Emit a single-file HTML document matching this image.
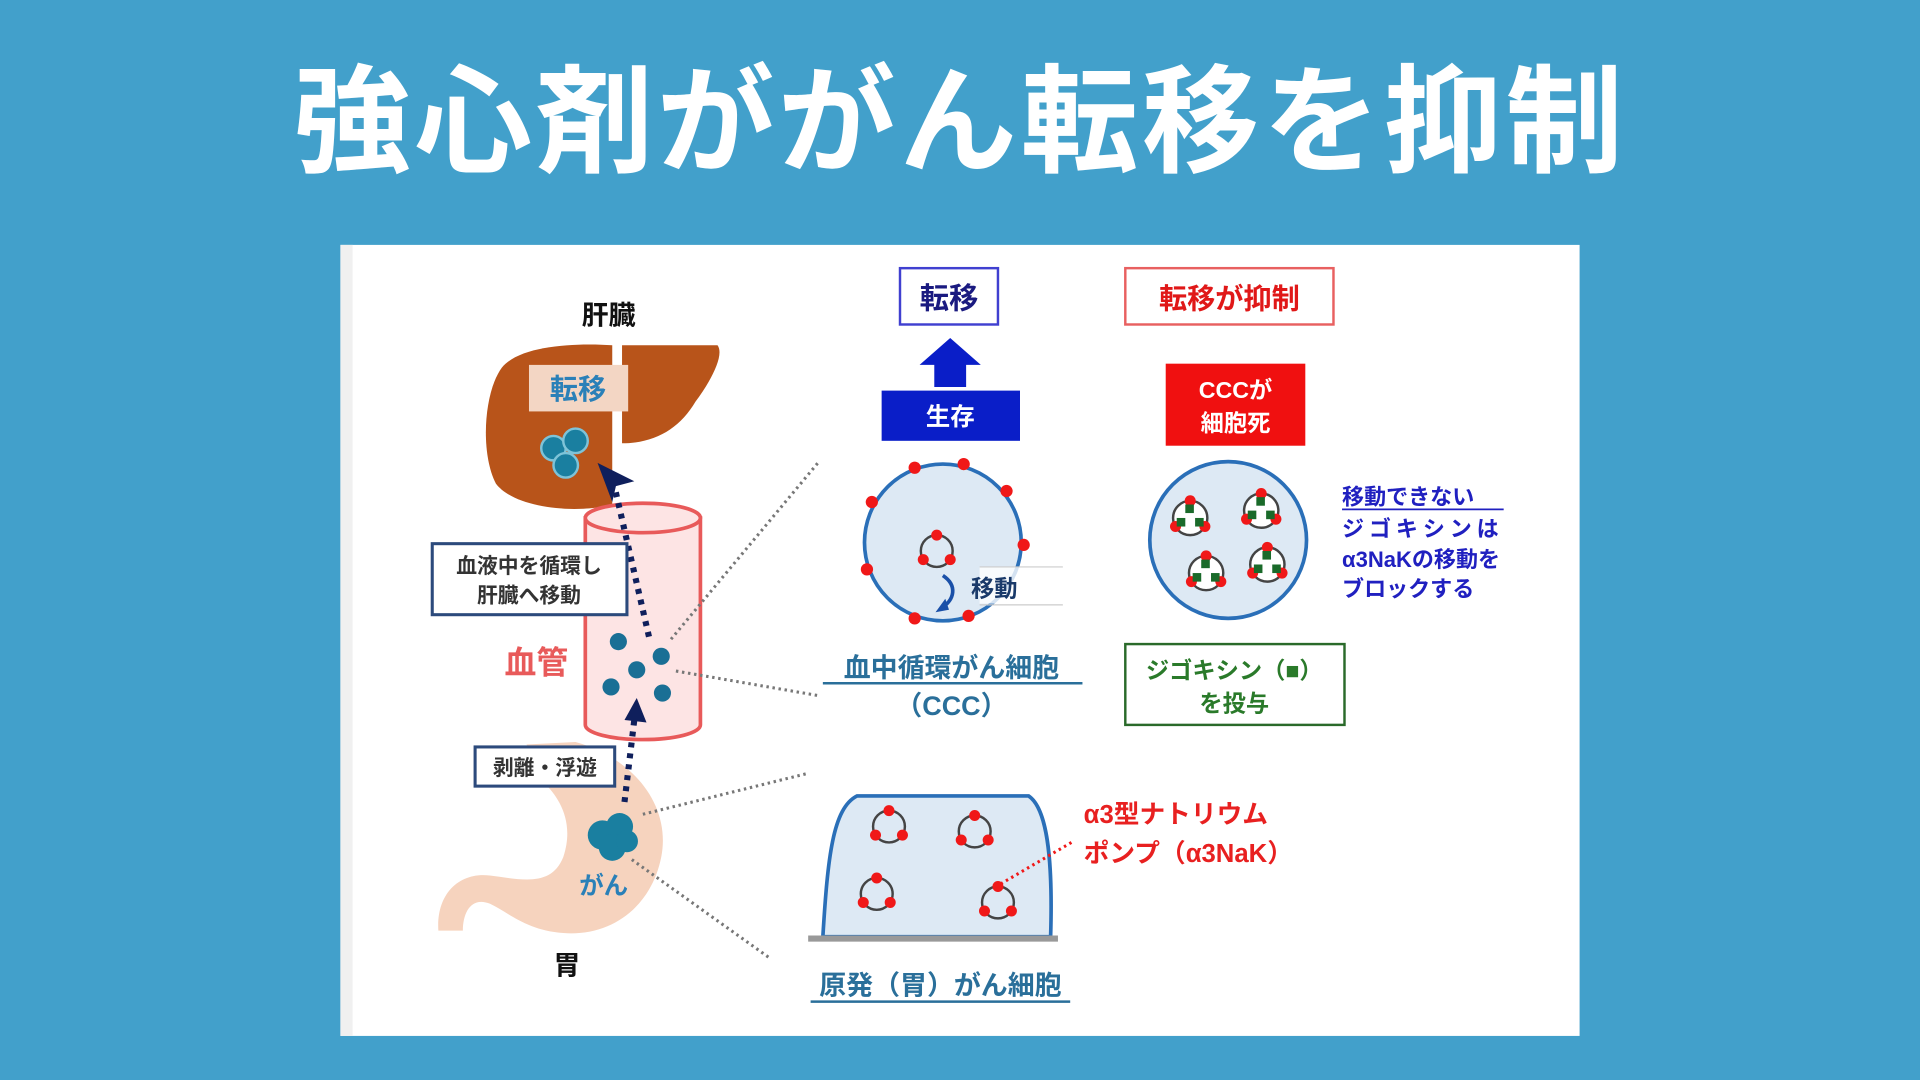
<!DOCTYPE html>
<html><head><meta charset="utf-8"><style>
html,body{margin:0;padding:0;background:#42a0cb;}
svg{display:block}
text{font-family:"Liberation Sans","Noto Sans CJK JP",sans-serif;font-weight:bold}
</style></head><body>
<svg width="1920" height="1080" viewBox="0 0 1568 882" xmlns="http://www.w3.org/2000/svg">
<defs>
<g id="cell">
<circle cx="0" cy="0" r="13" fill="none" stroke="#444" stroke-width="2"/>
<circle cx="0" cy="-13" r="4.5" fill="#f01818"/>
<circle cx="-11" cy="7" r="4.5" fill="#f01818"/>
<circle cx="11" cy="7" r="4.5" fill="#f01818"/>
</g>
<g id="cellg">
<circle cx="0" cy="0" r="14" fill="#fff" stroke="#444" stroke-width="2"/>
<circle cx="0" cy="-14" r="4.5" fill="#f01818"/>
<circle cx="-12" cy="7" r="4.5" fill="#f01818"/>
<circle cx="12" cy="7" r="4.5" fill="#f01818"/>
<rect x="-4" y="-11" width="7" height="7" fill="#1a6a2a"/>
<rect x="-11" y="0" width="7" height="7" fill="#1a6a2a"/>
<rect x="4" y="0" width="7" height="7" fill="#1a6a2a"/>
</g>
</defs>
<rect width="1568" height="882" fill="#42a0cb"/>
<text x="784" y="133" font-size="96" fill="#fff" text-anchor="middle" letter-spacing="3">強心剤ががん転移を抑制</text>

<rect x="278" y="200" width="1012" height="646" fill="#fff"/>
<rect x="278" y="200" width="10" height="646" fill="#f0f0f0"/>

<!-- liver -->
<text x="497" y="265" font-size="22" fill="#111" text-anchor="middle">肝臓</text>
<path d="M500 282 L500 412 C470 420 420 415 405 395 C392 370 395 320 410 300 C425 282 470 280 500 282 Z" fill="#b8541a"/>
<path d="M508 282 L586 282 C592 290 580 312 568 328 C555 350 535 362 508 362 Z" fill="#b8541a"/>
<rect x="432" y="298" width="81" height="38" fill="#f3d6c4"/>
<text x="472" y="326" font-size="23" fill="#2a80b8" text-anchor="middle">転移</text>
<g fill="#1a7fa0" stroke="#7ec3d8" stroke-width="2">
<circle cx="452" cy="366" r="10"/><circle cx="470" cy="360" r="10"/><circle cx="462" cy="380" r="10"/>
</g>

<!-- vessel -->
<path d="M478 423 L478 592 A47 12 0 0 0 572 592 L572 423 Z" fill="#fde4e4" stroke="#e85a5a" stroke-width="3"/>
<ellipse cx="525" cy="423" rx="47" ry="12" fill="#fde4e4" stroke="#e85a5a" stroke-width="3"/>
<g fill="#1a6f95">
<circle cx="505" cy="524" r="7"/><circle cx="540" cy="536" r="7"/><circle cx="520" cy="547" r="7"/><circle cx="499" cy="561" r="7"/><circle cx="541" cy="566" r="7"/>
</g>
<text x="438" y="550" font-size="26" fill="#e85a5a" text-anchor="middle">血管</text>

<!-- stomach -->
<path d="M430 608 L470 606 C520 620 548 660 540 700 C532 740 500 765 460 762 C430 760 415 745 400 738 C385 732 378 745 378 760 L358 760 C356 730 375 712 400 715 C425 718 450 725 460 700 C470 670 455 650 445 640 Z" fill="#f6d3be"/>
<g fill="#1a7fa0"><circle cx="492" cy="682" r="12"/><circle cx="506" cy="675" r="11"/><circle cx="500" cy="692" r="11"/><circle cx="512" cy="687" r="9"/></g>
<text x="493" y="730" font-size="20" fill="#2a80b8" text-anchor="middle">がん</text>
<text x="463" y="796" font-size="22" fill="#111" text-anchor="middle">胃</text>

<!-- arrows -->
<line x1="530" y1="520" x2="502" y2="398" stroke="#0f1f5c" stroke-width="5" stroke-dasharray="4 5"/>
<path d="M488 378 L518 393 L503 397 L500 410 Z" fill="#0f1f5c"/>
<line x1="510" y1="655" x2="518" y2="588" stroke="#0f1f5c" stroke-width="5" stroke-dasharray="4 5"/>
<path d="M520 570 L528 590 L510 588 Z" fill="#0f1f5c"/>

<rect x="353" y="444" width="159" height="58" fill="#fff" stroke="#2c4a7c" stroke-width="2.5"/>
<text x="432" y="468" font-size="17" fill="#333" text-anchor="middle">血液中を循環し</text>
<text x="432" y="492" font-size="17" fill="#333" text-anchor="middle">肝臓へ移動</text>
<rect x="388" y="610" width="114" height="32" fill="#fff" stroke="#2c4a7c" stroke-width="2.5"/>
<text x="445" y="633" font-size="17" fill="#333" text-anchor="middle">剥離・浮遊</text>

<!-- dotted gray -->
<g stroke="#777" stroke-width="2.5" stroke-dasharray="2 3">
<line x1="548" y1="522" x2="668" y2="378"/>
<line x1="552" y1="548" x2="668" y2="568"/>
<line x1="525" y1="665" x2="658" y2="632"/>
<line x1="516" y1="702" x2="628" y2="782"/>
</g>

<!-- middle -->
<rect x="735" y="219" width="80" height="46" fill="#fff" stroke="#4040d0" stroke-width="2"/>
<text x="775" y="252" font-size="24" fill="#1a1a80" text-anchor="middle">転移</text>
<path d="M751 298 L776 276 L801 298 L789 298 L789 316 L763 316 L763 298 Z" fill="#0a1ec8"/>
<rect x="720" y="319" width="113" height="41" fill="#0a1ec8"/>
<text x="776" y="347" font-size="20" fill="#fff" text-anchor="middle">生存</text>

<circle cx="770" cy="443" r="64" fill="#dde9f4" stroke="#2a6fb8" stroke-width="3"/>
<g fill="#f01818">
<circle cx="747" cy="382" r="5"/><circle cx="787" cy="379" r="5"/><circle cx="822" cy="401" r="5"/><circle cx="836" cy="445" r="5"/><circle cx="712" cy="410" r="5"/><circle cx="708" cy="465" r="5"/><circle cx="747" cy="505" r="5"/><circle cx="791" cy="503" r="5"/>
</g>
<use href="#cell" x="765" y="450"/>
<rect x="800" y="463" width="68" height="30" fill="#fff" opacity="0.8"/>
<line x1="800" y1="463" x2="868" y2="463" stroke="#ccc" stroke-width="1"/>
<line x1="800" y1="494" x2="868" y2="494" stroke="#ccc" stroke-width="1"/>
<path d="M770 470 C782 478 780 490 768 497" fill="none" stroke="#1a50a8" stroke-width="3"/>
<path d="M764 500 L772 489 L775 498 Z" fill="#1a50a8"/>
<text x="812" y="487" font-size="19" fill="#1a3a6a" text-anchor="middle">移動</text>

<text x="777" y="553" font-size="22" fill="#2a6f9a" text-anchor="middle">血中循環がん細胞</text>
<line x1="672" y1="558" x2="884" y2="558" stroke="#2a6f9a" stroke-width="2"/>
<text x="777" y="584" font-size="22" fill="#2a6f9a" text-anchor="middle">（CCC）</text>

<path d="M672 765 C676 700 680 660 700 650 L840 650 C855 660 860 700 858 765 Z" fill="#dde9f4" stroke="#2a6fb8" stroke-width="3"/>
<rect x="660" y="764" width="204" height="5" fill="#999"/>
<use href="#cell" x="726" y="675"/><use href="#cell" x="796" y="679"/>
<use href="#cell" x="716" y="730"/><use href="#cell" x="815" y="737"/>
<line x1="875" y1="688" x2="817" y2="722" stroke="#f01818" stroke-width="2.5" stroke-dasharray="2 3"/>
<text x="885" y="672" font-size="21" fill="#e82020">α3型ナトリウム</text>
<text x="885" y="704" font-size="21" fill="#e82020">ポンプ（α3NaK）</text>
<text x="768" y="812" font-size="22" fill="#2a6f9a" text-anchor="middle">原発（胃）がん細胞</text>
<line x1="662" y1="818" x2="874" y2="818" stroke="#2a6f9a" stroke-width="2"/>

<!-- right -->
<rect x="919" y="219" width="170" height="46" fill="#fff" stroke="#e86060" stroke-width="2"/>
<text x="1004" y="252" font-size="23" fill="#e01818" text-anchor="middle">転移が抑制</text>
<rect x="952" y="297" width="114" height="67" fill="#f01010"/>
<text x="1009" y="325" font-size="19" fill="#fff" text-anchor="middle">CCCが</text>
<text x="1009" y="352" font-size="19" fill="#fff" text-anchor="middle">細胞死</text>
<circle cx="1003" cy="441" r="64" fill="#dde9f4" stroke="#2a6fb8" stroke-width="3"/>
<use href="#cellg" x="972" y="423"/><use href="#cellg" x="1030" y="417"/>
<use href="#cellg" x="985" y="468"/><use href="#cellg" x="1035" y="461"/>
<g font-size="18" fill="#2020c0">
<text x="1096" y="412">移動できない</text>
<text x="1096" y="438" letter-spacing="4">ジゴキシンは</text>
<text x="1096" y="463">α3NaKの移動を</text>
<text x="1096" y="487">ブロックする</text>
</g>
<line x1="1096" y1="416" x2="1228" y2="416" stroke="#2020c0" stroke-width="1.5"/>
<rect x="919" y="526" width="179" height="66" fill="#fff" stroke="#2a6a2a" stroke-width="2"/>
<text x="1008" y="554" font-size="19" fill="#2a7a2a" text-anchor="middle">ジゴキシン（■）</text>
<text x="1008" y="581" font-size="19" fill="#2a7a2a" text-anchor="middle">を投与</text>
</svg>
</body></html>
